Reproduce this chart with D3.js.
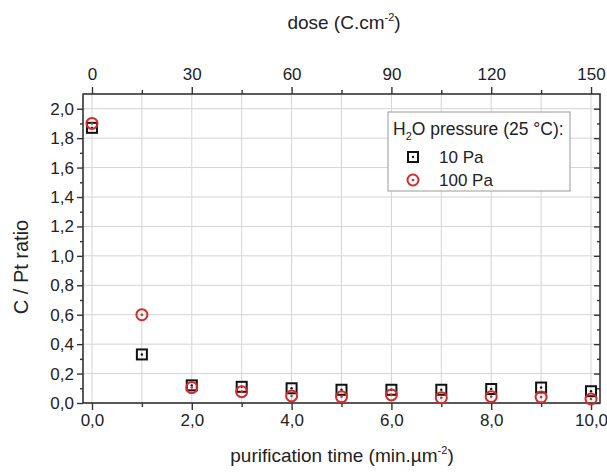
<!DOCTYPE html>
<html><head><meta charset="utf-8">
<script src="https://cdn.jsdelivr.net/npm/d3@7"></script>
<style>
html,body{margin:0;padding:0;background:#fff;}
svg{display:block;font-family:"Liberation Sans",Arial,sans-serif;}
</style></head>
<body><svg id="chart" width="607" height="474"></svg>
<script>
// ---- data ----
const time = [0, 1, 2, 3, 4, 5, 6, 7, 8, 9, 10];
const c10Pa = [1.87, 0.33, 0.12, 0.11, 0.10, 0.09, 0.09, 0.09, 0.095, 0.105, 0.08];
const c100Pa = [1.90, 0.60, 0.105, 0.077, 0.048, 0.042, 0.055, 0.036, 0.043, 0.04, 0.027];
const bottomTicks = [0, 2, 4, 6, 8, 10];
const bottomMinor = [1, 3, 5, 7, 9];
const topTicks = [0, 30, 60, 90, 120, 150];
const topMinor = [15, 45, 75, 105, 135];
const yTicks = [0, 0.2, 0.4, 0.6, 0.8, 1.0, 1.2, 1.4, 1.6, 1.8, 2.0];
const yMinor = [0.1, 0.3, 0.5, 0.7, 0.9, 1.1, 1.3, 1.5, 1.7, 1.9];
const seriesNames = ["10 Pa", "100 Pa"];
const doseFactor = 15; // C.cm-2 per min.um-2

// ---- layout ----
const L = 83, R = 600, T = 94, B = 403;
const svg = d3.select("#chart");
const x = d3.scaleLinear().domain([-0.18, 10.18]).range([L, R]);
const xTop = d3.scaleLinear().domain([-0.18 * doseFactor, 10.18 * doseFactor]).range([L, R]);
const y = d3.scaleLinear().domain([0, 2.1]).range([B, T]);
const loc = d3.formatLocale({decimal: ",", thousands: ".", grouping: [3], currency: ["", ""]});
const f1 = loc.format(".1f");

// grid
const grid = svg.append("g").attr("stroke", "#d4d4d4").attr("stroke-width", 1);
grid.selectAll("line.v").data(time).join("line")
  .attr("x1", d => x(d)).attr("x2", d => x(d)).attr("y1", T).attr("y2", B);
grid.selectAll("line.h").data(yTicks).join("line")
  .attr("y1", d => y(d)).attr("y2", d => y(d)).attr("x1", L).attr("x2", R);

const axisColor = "#333";
function styleAxis(g, size) {
  g.attr("font-family", "Liberation Sans, Arial, sans-serif").attr("font-size", size);
  g.selectAll("path.domain").remove();
  g.selectAll("line").attr("stroke", axisColor).attr("stroke-width", 1.4);
  g.selectAll("text").attr("fill", "#222");
}

// bottom axis
const gB = svg.append("g").attr("transform", `translate(0,${B})`)
  .call(d3.axisBottom(x).tickValues(bottomTicks).tickFormat(f1).tickSize(7).tickPadding(4));
styleAxis(gB, 17);
const gBm = svg.append("g").attr("transform", `translate(0,${B})`)
  .call(d3.axisBottom(x).tickValues(bottomMinor).tickFormat("").tickSize(4));
styleAxis(gBm, 17);

// top axis
const gT = svg.append("g").attr("transform", `translate(0,${T})`)
  .call(d3.axisTop(xTop).tickValues(topTicks).tickFormat(d3.format("d")).tickSize(7).tickPadding(7));
styleAxis(gT, 17);
const gTm = svg.append("g").attr("transform", `translate(0,${T})`)
  .call(d3.axisTop(xTop).tickValues(topMinor).tickFormat("").tickSize(4));
styleAxis(gTm, 17);

// left axis
const gL = svg.append("g").attr("transform", `translate(${L},0)`)
  .call(d3.axisLeft(y).tickValues(yTicks).tickFormat(f1).tickSize(6).tickPadding(3));
styleAxis(gL, 17);
const gLm = svg.append("g").attr("transform", `translate(${L},0)`)
  .call(d3.axisLeft(y).tickValues(yMinor).tickFormat("").tickSize(3));
styleAxis(gLm, 17);

// right axis (inward ticks)
const gR = svg.append("g").attr("transform", `translate(${R},0)`)
  .call(d3.axisRight(y).tickValues(yTicks).tickFormat("").tickSize(-6));
styleAxis(gR, 17);
const gRm = svg.append("g").attr("transform", `translate(${R},0)`)
  .call(d3.axisRight(y).tickValues(yMinor).tickFormat("").tickSize(-3));
styleAxis(gRm, 17);

// frame
svg.append("rect").attr("x", L).attr("y", T).attr("width", R - L).attr("height", B - T)
  .attr("fill", "none").attr("stroke", axisColor).attr("stroke-width", 1.6);

// titles
const tTop = svg.append("text").attr("x", 344).attr("y", 29).attr("text-anchor", "middle")
  .attr("font-size", 19).attr("fill", "#222");
tTop.append("tspan").text("dose (C.cm");
tTop.append("tspan").attr("dy", -8).attr("font-size", 11).text("-2");
tTop.append("tspan").attr("dy", 8).text(")");

const tBot = svg.append("text").attr("x", 342).attr("y", 462).attr("text-anchor", "middle")
  .attr("font-size", 19).attr("fill", "#222");
tBot.append("tspan").text("purification time (min.\u00b5m");
tBot.append("tspan").attr("dy", -8).attr("font-size", 11).text("-2");
tBot.append("tspan").attr("dy", 8).text(")");

svg.append("text").attr("transform", "translate(28,267) rotate(-90)").attr("text-anchor", "middle")
  .attr("font-size", 20).attr("fill", "#222").text("C / Pt ratio");

// markers
const red = "#d42a2a";
function square(g, cx, cy) {
  g.append("rect").attr("x", cx - 5).attr("y", cy - 5).attr("width", 10).attr("height", 10)
    .attr("fill", "none").attr("stroke", "#111").attr("stroke-width", 2);
  g.append("circle").attr("cx", cx).attr("cy", cy).attr("r", 1.2).attr("fill", "#111");
}
function ring(g, cx, cy) {
  g.append("circle").attr("cx", cx).attr("cy", cy).attr("r", 5.5)
    .attr("fill", "none").attr("stroke", red).attr("stroke-width", 2);
  g.append("circle").attr("cx", cx).attr("cy", cy).attr("r", 1.3).attr("fill", red);
}
const gS = svg.append("g");
time.forEach((t, i) => square(gS, x(t), y(c10Pa[i])));
const gC = svg.append("g");
time.forEach((t, i) => ring(gC, x(t), y(c100Pa[i])));

// legend
const lg = svg.append("g");
lg.append("rect").attr("x", 388).attr("y", 112).attr("width", 182).attr("height", 79)
  .attr("fill", "#fff").attr("stroke", "#999").attr("stroke-width", 1);
const lt = lg.append("text").attr("x", 393).attr("y", 135).attr("font-size", 17.5).attr("fill", "#222");
lt.append("tspan").text("H");
lt.append("tspan").attr("dy", 5).attr("font-size", 11).text("2");
lt.append("tspan").attr("dy", -5).text("O pressure (25 \u00b0C):");
square(lg, 413, 157);
lg.append("text").attr("x", 439).attr("y", 163).attr("font-size", 17).attr("fill", "#222").text(seriesNames[0]);
ring(lg, 413, 180);
lg.append("text").attr("x", 439).attr("y", 186).attr("font-size", 17).attr("fill", "#222").text(seriesNames[1]);
</script></body></html>
